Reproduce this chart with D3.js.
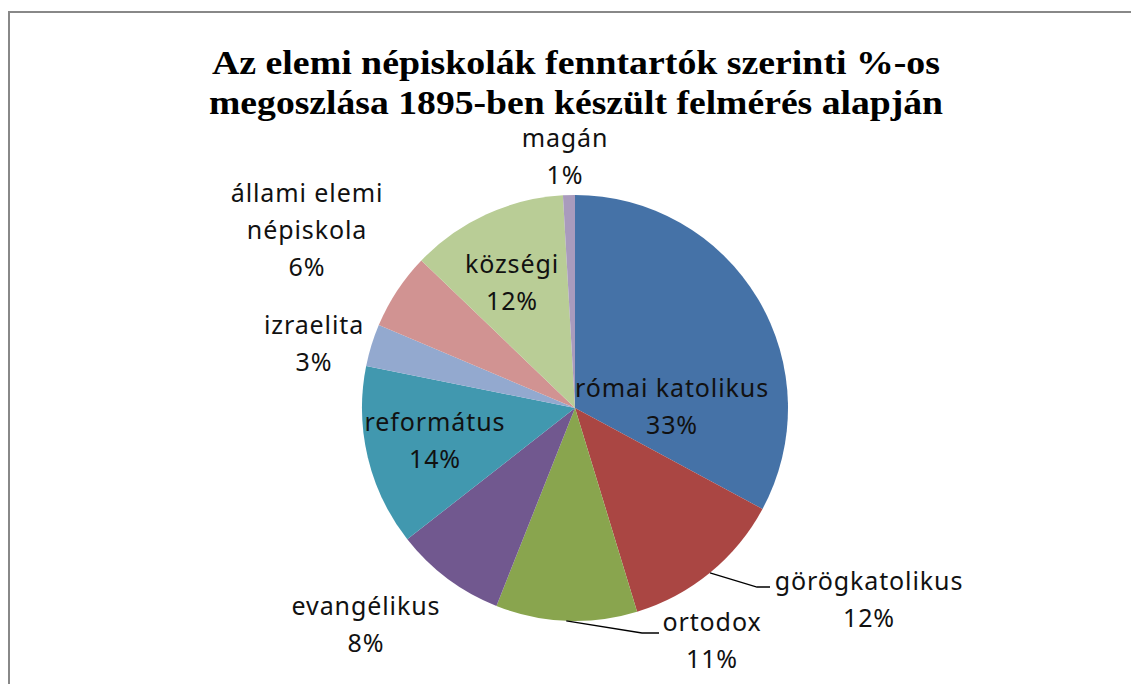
<!DOCTYPE html>
<html>
<head>
<meta charset="utf-8">
<script src="https://cdn.jsdelivr.net/npm/d3@7"></script>
<style>
  body { margin: 0; background: #fff; }
  text { font-family: "Noto Sans", "Open Sans", sans-serif; }
</style>
</head>
<body>
<div id="chart"></div>
<script>
// data
var categories = ['római katolikus', 'görögkatolikus', 'ortodox', 'evangélikus', 'református',
  'izraelita', 'állami elemi népiskola', 'községi', 'magán'];
var shares = [32.8, 12.4, 10.7, 8.4, 13.7, 3.2, 5.8, 11.9, 0.9];
var title_lines = ['Az elemi népiskolák fenntartók szerinti %-os', 'megoszlása 1895-ben készült felmérés alapján'];

var colors = ['#4572A7', '#AA4643', '#89A54E', '#71588F', '#4198AF', '#93A9CF', '#D19392', '#B9CD96', '#A99BBD'];

var chart_width = 1131;
var chart_height = 684;
var cx = 575, cy = 408, radius = 213;

// label lines (split) and where each label sits, relative to the centre
var label_lines = [['római katolikus'], ['görögkatolikus'], ['ortodox'], ['evangélikus'], ['református'],
  ['izraelita'], ['állami elemi', 'népiskola'], ['községi'], ['magán']];
var label_pos = [[97, -1], [294, 192], [137, 233], [-209, 217], [-140, 33],
  [-261, -64], [-268, -177], [-63, -125], [-10, -251]];

var svg = d3.select('#chart').append('svg')
  .attr('width', chart_width)
  .attr('height', chart_height);

// chart frame
svg.append('rect')
  .attr('x', 9).attr('y', 12)
  .attr('width', 1200).attr('height', 800)
  .attr('fill', '#fff')
  .attr('stroke', '#888')
  .attr('stroke-width', 2);

// title
svg.selectAll('.title')
  .data(title_lines)
  .enter()
  .append('text')
  .attr('class', 'title')
  .attr('x', 576)
  .attr('y', function(d, i) { return 74 + i * 40; })
  .attr('text-anchor', 'middle')
  .style('font-family', '"Liberation Serif", "Times New Roman", serif')
  .style('font-weight', 'bold')
  .style('font-size', '33px')
  .attr('textLength', function(d, i) { return i === 0 ? 728 : 734; })
  .attr('lengthAdjust', 'spacingAndGlyphs')
  .text(function(d) { return d; });

var total = d3.sum(shares);
var pie = d3.pie().sort(null).value(function(d) { return d; });
var arcs = pie(shares);
var arc = d3.arc().innerRadius(0).outerRadius(radius);

var g = svg.append('g').attr('transform', 'translate(' + cx + ',' + cy + ')');

g.selectAll('path')
  .data(arcs)
  .enter()
  .append('path')
  .attr('d', arc)
  .attr('fill', function(d, i) { return colors[i]; });

// leader lines for görögkatolikus and ortodox
var leaders = [{ i: 1, bend: [182, 179], end: [195, 179] }, { i: 2, bend: [67, 225], end: [84, 225] }];
g.selectAll('.leader')
  .data(leaders)
  .enter()
  .append('polyline')
  .attr('class', 'leader')
  .attr('points', function(d) {
    var a = (arcs[d.i].startAngle + arcs[d.i].endAngle) / 2;
    var p = [Math.sin(a) * radius, -Math.cos(a) * radius];
    return [p, d.bend, d.end].map(function(q) { return q.join(','); }).join(' ');
  })
  .attr('fill', 'none')
  .attr('stroke', '#000')
  .attr('stroke-width', 1.3);

// data labels
var labels = g.selectAll('.lbl')
  .data(arcs)
  .enter()
  .append('text')
  .attr('class', 'lbl')
  .attr('text-anchor', 'middle')
  .style('font-size', '25px')
  .style('letter-spacing', '0.9px')
  .attr('fill', '#111');

labels.each(function(d, i) {
  var lines = label_lines[i].concat([Math.round(d.value / total * 100) + '%']);
  var x = label_pos[i][0];
  var y0 = label_pos[i][1] - (lines.length - 1) * 37 / 2 + 8;
  d3.select(this).selectAll('tspan')
    .data(lines)
    .enter()
    .append('tspan')
    .attr('x', x)
    .attr('y', function(t, j) { return y0 + j * 37; })
    .text(function(t) { return t; });
});
</script>
</body>
</html>
